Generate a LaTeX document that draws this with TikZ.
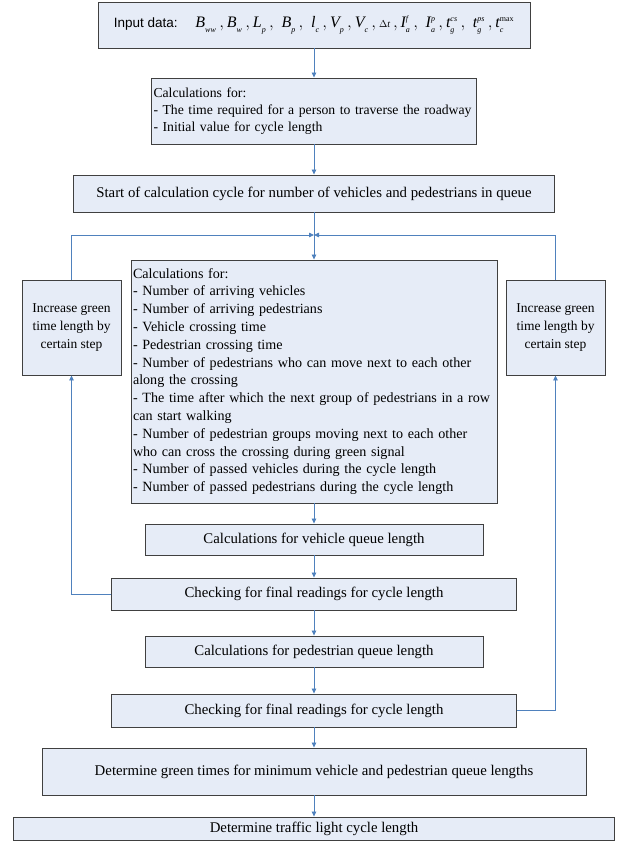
\documentclass[tikz,border=0pt]{standalone}
\usepackage{amsmath}
\usepackage{fontspec}
\setmainfont{Liberation Serif}
\newfontfamily\arialf{Liberation Sans}
\usetikzlibrary{arrows.meta}
\definecolor{boxfill}{RGB}{230,236,247}
\definecolor{boxline}{RGB}{64,64,64}
\definecolor{arr}{RGB}{79,129,189}
\newcommand{\sy}[3]{\textit{#1}_{\scriptscriptstyle\textit{#2}}^{\scriptscriptstyle\textit{#3}}}
\begin{document}
\begin{tikzpicture}[x=1pt,y=-1pt,
  box/.style={draw=boxline,fill=boxfill,line width=0.9pt,inner sep=3pt,
    font=\fontsize{14.8}{17.8}\selectfont},
  flow/.style={draw=arr,line width=0.8pt,-{Triangle[length=5pt,width=4.5pt]}},
  link/.style={draw=arr,line width=0.8pt}]
\useasboundingbox (0,0) rectangle (619,843);
\def\cx{314}
\node[box,minimum width=432pt,minimum height=46pt] (in) at (\cx,25)
  {{\arialf\fontsize{13.5}{15}\selectfont Input data:}\hspace{1.2em}{\fontsize{16}{18}\selectfont
   $\sy{B}{ww}{}\,,\sy{B}{w}{}\,,\sy{L}{p}{}\,,\;\sy{B}{p}{}\,,\;\sy{l}{c}{}\,,\sy{V}{p}{}\,,\sy{V}{c}{}\,,\text{\fontsize{10}{12}\selectfont$\Delta\textit{t}$}\,,\sy{I}{a}{f}\,,\;\sy{I}{a}{p}\,,\sy{t}{g}{cs}\,,\;\sy{t}{g}{ps}\,,\textit{t}_{\scriptscriptstyle\textit{c}}^{\scriptscriptstyle\mathrm{max}}$}};
\node[box,minimum width=325pt,minimum height=66pt,inner xsep=2pt,text width=321pt,align=left,
  font=\fontsize{13.7}{17.2}\selectfont] (c2) at (\cx,111)
  {Calculations for:\\- The time required for a person to traverse the roadway\\- Initial value for cycle length};
\node[box,minimum width=481pt,minimum height=37pt] (st) at (\cx,193.5)
  {Start of calculation cycle for number of vehicles and pedestrians in queue};
\node[box,minimum width=366pt,minimum height=243pt,inner xsep=2pt,text width=362pt,align=left,
  font=\fontsize{14.1}{17.8}\selectfont] (mn) at (\cx,381.5)
  {Calculations for:\\
   - Number of arriving vehicles\\
   - Number of arriving pedestrians\\
   - Vehicle crossing time\\
   - Pedestrian crossing time\\
   - Number of pedestrians who can move next to each other\\
   along the crossing\\
   - The time after which the next group of pedestrians in a row\\
   can start walking\\
   - Number of pedestrian groups moving next to each other\\
   who can cross the crossing during green signal\\
   - Number of passed vehicles during the cycle length\\
   - Number of passed pedestrians during the cycle length};
\tikzset{inc/.style={box,minimum width=99pt,minimum height=95pt,align=center,
  font=\fontsize{13.5}{18}\selectfont}}
\node[inc] (li) at (71.5,327.5) {Increase green\\time length by\\certain step};
\node[inc] (ri) at (555.5,327.5) {Increase green\\time length by\\certain step};
\node[box,minimum width=338pt,minimum height=31pt] (vq) at (\cx,539.5)
  {Calculations for vehicle queue length};
\node[box,minimum width=405pt,minimum height=32pt] (c1) at (\cx,594)
  {Checking for final readings for cycle length};
\node[box,minimum width=338pt,minimum height=31pt] (pq) at (\cx,651.5)
  {Calculations for pedestrian queue length};
\node[box,minimum width=405pt,minimum height=33pt] (c3) at (\cx,710.5)
  {Checking for final readings for cycle length};
\node[box,minimum width=544pt,minimum height=47pt] (dg) at (\cx,771.5)
  {Determine green times for minimum vehicle and pedestrian queue lengths};
\node[box,minimum width=601pt,minimum height=23pt,inner sep=1pt] (tl) at (\cx,828.5)
  {Determine traffic light cycle length};
\coordinate (j) at (\cx,235);
\draw[flow] (in) -- (c2);
\draw[flow] (c2) -- (st);
\draw[link] (st) -- (j);
\draw[flow] (j) -- (mn);
\draw[flow] (li.north) |- (j);
\draw[flow] (ri.north) |- (j);
\draw[flow] (mn) -- (vq);
\draw[flow] (vq) -- (c1);
\draw[flow] (c1) -- (pq);
\draw[flow] (pq) -- (c3);
\draw[flow] (c3) -- (dg);
\draw[flow] (dg) -- (tl);
\draw[flow] (c1.west) -| (li.south);
\draw[flow] (c3.east) -| (ri.south);
\end{tikzpicture}
\end{document}
